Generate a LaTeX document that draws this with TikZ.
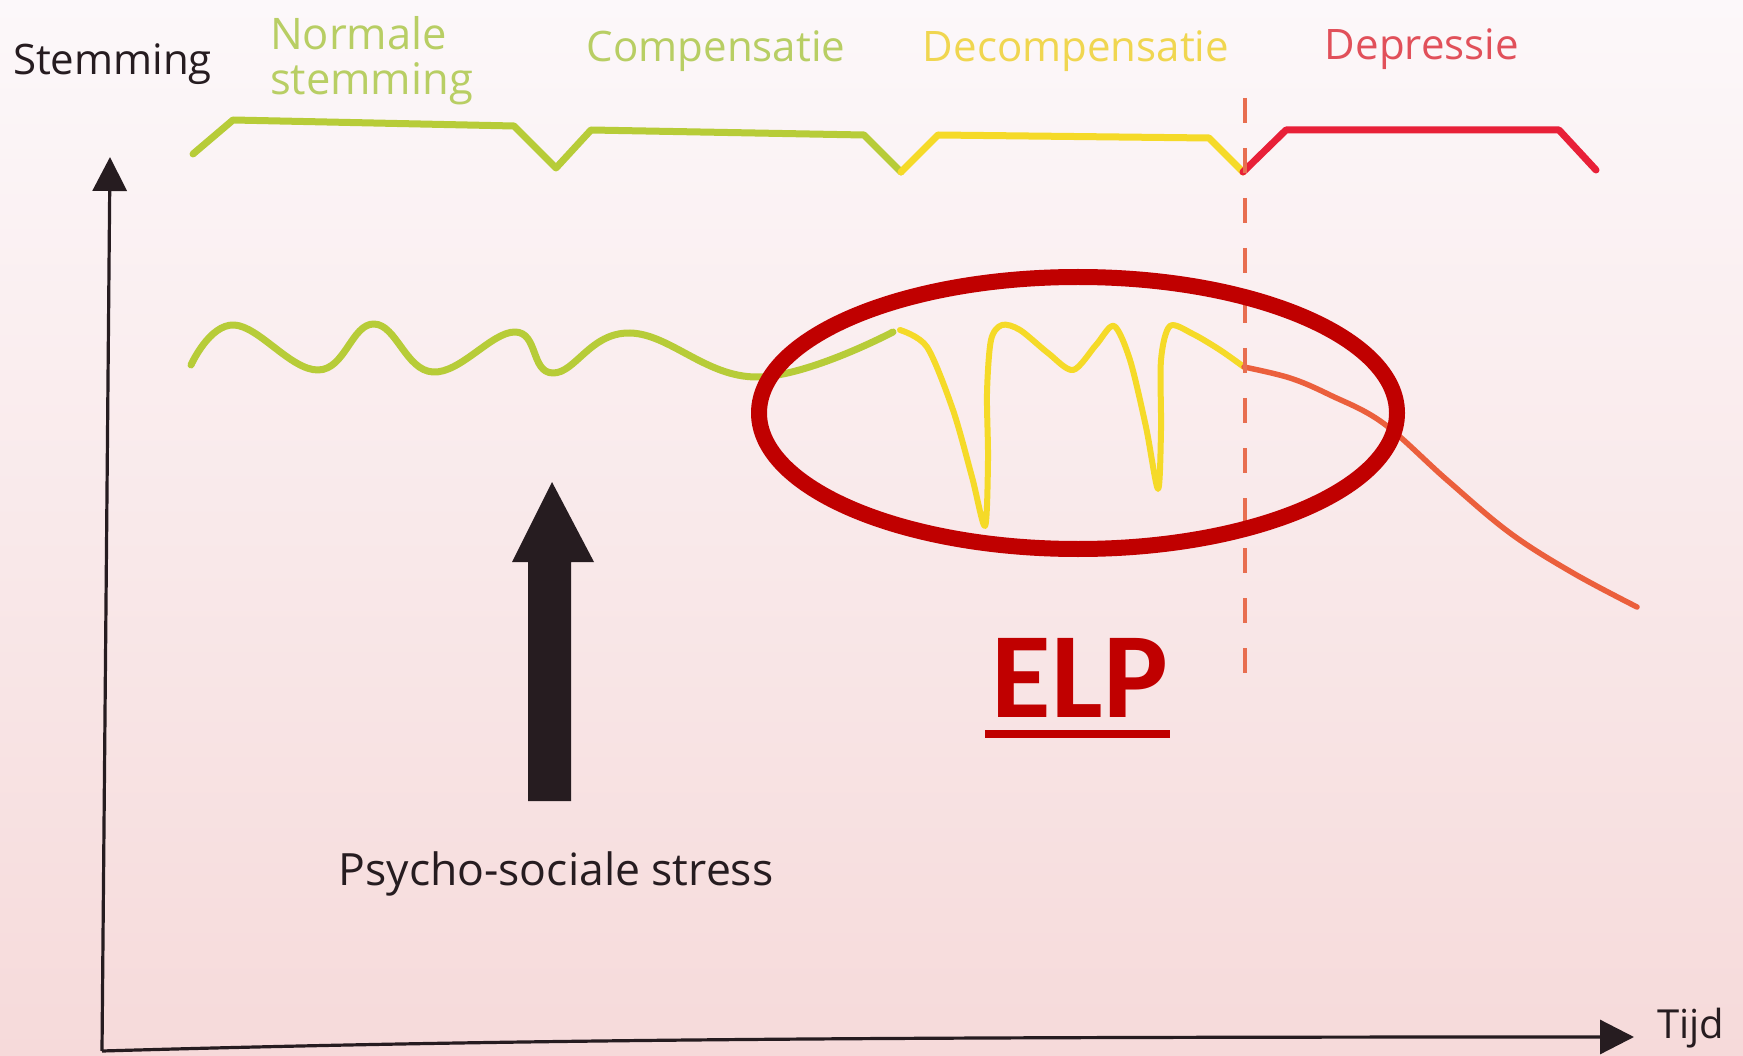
\documentclass[tikz,border=0pt]{standalone}
\usepackage{fontspec}
\setmainfont{Open Sans}
\newfontfamily\elpfont{Carlito}
\usetikzlibrary{arrows.meta}
\definecolor{bgtop}{RGB}{252,248,250}
\definecolor{bgmid}{RGB}{250,238,241}
\definecolor{bgbot}{RGB}{246,218,218}
\definecolor{lgreen}{RGB}{183,204,56}
\definecolor{tgreen}{RGB}{184,206,100}
\definecolor{lyellow}{RGB}{245,218,40}
\definecolor{tyellow}{RGB}{240,214,80}
\definecolor{lred}{RGB}{232,32,56}
\definecolor{tred}{RGB}{225,80,90}
\definecolor{lorange}{RGB}{235,95,60}
\definecolor{ldash}{RGB}{232,110,80}
\definecolor{elpred}{RGB}{192,0,0}
\definecolor{ink}{RGB}{38,28,32}
\begin{document}
\begin{tikzpicture}[x=1pt,y=-1pt,
  lab/.style={inner sep=0pt,outer sep=0pt},
  phase/.style={lab,font=\fontsize{42}{48}\selectfont},
  curve/.style={line width=7pt,line cap=round,line join=round},
  axis/.style={draw=ink,line width=3.2pt,-{Triangle[length=34pt,width=34pt]}}]
\useasboundingbox (0,0) rectangle (1743,1056);
\shade[top color=bgtop, middle color=bgmid, bottom color=bgbot] (0,0) rectangle (1743,1056);

% axes
\coordinate (o) at (102,1051);
\coordinate (ytip) at (110,157);
\coordinate (xtip) at (1634,1037);
\draw[axis] (o) -- (ytip);
\draw[axis] (o) .. controls (520,1039) and (900,1037) .. (xtip);

% labels
\node[lab,anchor=base west,text=ink,font=\fontsize{42}{48}\selectfont] (stem) at (13,75) {Stemming};
\node[lab,anchor=base west,text=tgreen,font=\fontsize{43.5}{48}\selectfont] (norm1) at (270,50) {Normale};
\node[lab,anchor=base west,text=tgreen,font=\fontsize{43.5}{48}\selectfont] (norm2) at (270,95) {stemming};
\node[phase,anchor=base,text=tgreen] (comp) at (716,62) {Compensatie};
\node[phase,anchor=base,text=tyellow] (decomp) at (1076,62) {Decompensatie};
\node[phase,anchor=base,text=tred] (depr) at (1422,60) {Depressie};
\node[lab,anchor=base,text=ink,font=\fontsize{44.5}{50}\selectfont] (stress) at (556,885) {Psycho-sociale stress};
\node[lab,anchor=base west,text=ink,font=\fontsize{40}{48}\selectfont] (tijd) at (1657,1038) {Tijd};

% top phase line
\draw[curve,draw=lgreen] (193,154) -- (233,120) -- (514,126) -- (556,168) -- (591,130) -- (864,135) -- (901,172);
\draw[curve,draw=lyellow] (901,172) -- (938,135) -- (1209,138) -- (1243,172);
\draw[curve,draw=lred] (1243,172) -- (1286,130) -- (1559,130) -- (1596,170);

% mood curve
\draw[curve,draw=lgreen] plot[smooth,tension=0.7] coordinates {(191,365) (234,325) (318,370) (374,324) (433,372) (515,332) (553,373) (630,333) (757,377) (893,332)};
\draw[line width=6pt,line cap=round,line join=round,draw=lyellow] plot[smooth,tension=0.5] coordinates {(900,330) (927,347) (953,410) (972,477) (985,526) (988,460) (987,393) (991,340) (1002,325) (1020,330) (1048,353) (1073,370) (1096,345) (1114,326) (1130,360) (1146,427) (1158,489) (1161,430) (1161,360) (1170,326) (1193,334) (1220,350) (1244,367)};
\draw[line width=5.5pt,line cap=round,draw=lorange] plot[smooth,tension=0.6] coordinates {(1244,367) (1290,378) (1330,395) (1383,423) (1447,480) (1510,533) (1573,573) (1637,607)};

% dashed separator
\coordinate (dtop) at (1245,98);
\coordinate (dbot) at (1245,678);
\draw[draw=ldash,line width=4pt,dash pattern=on 25pt off 25pt] (dtop) -- (dbot);

% ELP ellipse
\draw[draw=elpred,line width=16pt] (1078,413) ellipse [x radius=319, y radius=136];

% stress arrow
\fill[ink] (528,801) -- (528,562) -- (512,562) -- (552,482) -- (594,562) -- (571,562) -- (571,801) -- cycle;

% ELP label
\node[lab,anchor=base,text=elpred,font=\elpfont\bfseries\fontsize{122}{130}\selectfont] (elp) at (1080,717) {ELP};
\coordinate (ul1) at (985,734);
\coordinate (ul2) at (1170,734);
\draw[draw=elpred,line width=8pt] (ul1) -- (ul2);
\end{tikzpicture}
\end{document}
